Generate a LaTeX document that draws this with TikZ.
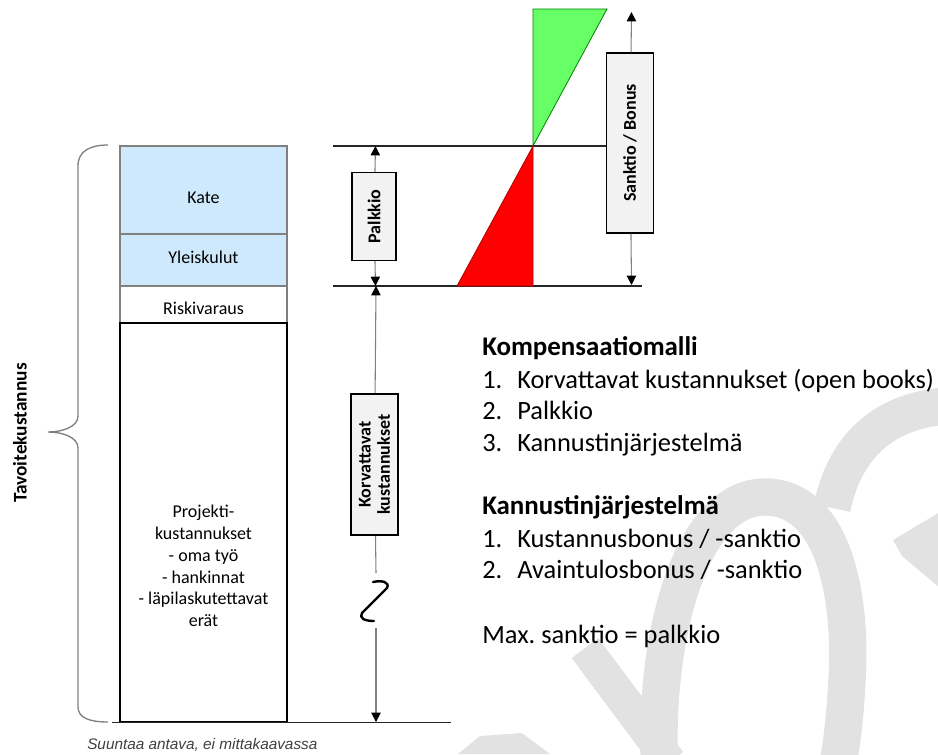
\documentclass[tikz,border=0pt]{standalone}
\usepackage{fontspec}
\setmainfont{Carlito}
\newfontfamily\arialfont{Liberation Sans}
\usetikzlibrary{arrows.meta, calc}

\definecolor{costblue}{RGB}{205,233,251}
\definecolor{bonusgreen}{RGB}{102,255,102}
\definecolor{boxgray}{RGB}{242,242,242}
\definecolor{markgray}{RGB}{226,226,226}
\definecolor{linegray}{RGB}{128,128,128}

\tikzset{
    tip/.tip={Triangle[length=7pt,width=7pt,color=black]},
    dimline/.style={draw=linegray, line width=0.8pt},
    labelbox/.style={draw=black, fill=boxgray, line width=1.1pt, rotate=90, inner sep=0pt,
        font=\bfseries\fontsize{13.5}{14.5}\selectfont, align=center},
    stacktext/.style={anchor=base, font=\fontsize{13.5}{16.3}\selectfont},
    listtext/.style={anchor=base west, inner sep=0pt, font=\fontsize{19.8}{22}\selectfont},
    listhead/.style={listtext, font=\bfseries\fontsize{20.2}{22}\selectfont},
    wmark/.style={draw=markgray, line width=28pt}
}

\begin{document}
\begin{tikzpicture}[x=0.75pt, y=-0.75pt]
        \useasboundingbox (0,0) rectangle (938,754);
        \clip (0,0) rectangle (938,754);

        % watermark in the background
        \draw[wmark, line width=25pt] (585,648) -- (670,762);
        \fill[markgray] (458,754) -- (480,736) -- (522,733) -- (550,754) -- cycle;
        \draw[wmark] (660,775) .. controls (652,640) and (690,497) .. (765,497)
            .. controls (835,497) and (852,600) .. (847,680) .. controls (845,720) and (841,750) .. (836,775);
        \draw[wmark] (832,508) .. controls (845,445) and (885,410) .. (948,406);
        \fill[markgray] (893,540) -- (940,512) -- (940,588) -- (902,556) -- cycle;

        % target cost stack
        \filldraw[fill=costblue, draw=gray, line width=0.8pt] (120,146) rectangle (287,234);
        \filldraw[fill=costblue, draw=gray, line width=0.8pt] (120,234) rectangle (287,286);
        \filldraw[fill=white, draw=gray, line width=0.8pt] (120,286) rectangle (287,323);
        \filldraw[fill=white, draw=black, line width=1.5pt] (120,323) rectangle (287,722);
        \node[stacktext] (kate) at (203.5,203) {Kate};
        \node[stacktext] (yleis) at (203.5,263) {Yleiskulut};
        \node[stacktext] (riski) at (203.5,314) {Riskivaraus};
        \node[stacktext, anchor=center, align=center] (projekti) at (203.5,566)
            {Projekti-\\kustannukset\\- oma työ\\- hankinnat\\- läpilaskutettavat\\erät};

        % brace
        \draw[linegray, line width=1pt] (108,145) .. controls (90,145) and (78,151) .. (78,166)
            -- (78,416) .. controls (78,427) and (62,432) .. (48,432)
            .. controls (62,432) and (78,437) .. (78,448)
            -- (78,707) .. controls (78,718) and (90,722) .. (108,722);
        \node[rotate=90, font=\bfseries\fontsize{14.5}{15.5}\selectfont] (tavoite) at (20,433) {Tavoitekustannus};

        % level lines
        \coordinate (top left) at (333,146);
        \coordinate (top right) at (607,146);
        \coordinate (mid left) at (333,286);
        \coordinate (mid right) at (642,286);
        \coordinate (low left) at (112,722.5);
        \coordinate (low right) at (451,722.5);
        \draw[black!85, line width=0.8pt] (top left) -- (top right);
        \draw[black!85, line width=0.8pt] (mid left) -- (mid right);
        \draw[black!85, line width=1.1pt] (low left) -- (low right);

        % bonus and sanction triangles
        \filldraw[fill=bonusgreen, draw=green!50!black, line width=0.6pt] (533,9) -- (607,9) -- (533,146) -- cycle;
        \filldraw[fill=red, draw=red!70!black, line width=0.6pt] (533,146) -- (533,286) -- (457,286) -- cycle;

        % Palkkio
        \coordinate (pal top) at (375.5,146);
        \coordinate (pal bot) at (375.5,286);
        \node[labelbox, minimum width=66pt, minimum height=33pt] (palbox) at (374,216.5) {Palkkio};
        \draw[dimline, -tip] (palbox) -- (pal top);
        \draw[dimline, -tip] (palbox) -- (pal bot);

        % Korvattavat kustannukset
        \coordinate (kor top) at (376,286);
        \coordinate (kor bot) at (376,722);
        \coordinate (break top) at (376,573);
        \coordinate (break bot) at (376,628);
        \node[labelbox, minimum width=106pt, minimum height=35pt] (korbox) at (374.5,464.5) {Korvattavat\\kustannukset};
        \draw[dimline, -tip] (korbox) -- (kor top);
        \draw[dimline] (korbox) -- (break top);
        \draw[dimline, -tip] (break bot) -- (kor bot);
        \draw[line width=1.8pt, line cap=round, line join=round] (373,582) .. controls (382,580) and (390,582) .. (387,588)
            -- (362,613) .. controls (359,618) and (364,621) .. (374,621);

        % Sanktio / Bonus
        \coordinate (san top) at (631.5,12);
        \coordinate (san bot) at (631.5,285);
        \node[labelbox, minimum width=135pt, minimum height=35pt] (sanbox) at (630,143) {Sanktio / Bonus};
        \draw[dimline, -tip] (sanbox) -- (san top);
        \draw[dimline, -tip] (sanbox) -- (san bot);

        % compensation model text
        \node[listhead] (kompens) at (482,355) {Kompensaatiomalli};
        \node[listtext] (k1) at (482,388) {1.};
        \node[listtext] (k1t) at (517,388) {Korvattavat kustannukset (open books)};
        \node[listtext] (k2) at (482,419.5) {2.};
        \node[listtext] (k2t) at (517,419.5) {Palkkio};
        \node[listtext] (k3) at (482,451) {3.};
        \node[listtext] (k3t) at (517,451) {Kannustinjärjestelmä};
        \node[listhead] (kannus) at (482,514) {Kannustinjärjestelmä};
        \node[listtext] (b1) at (482,547) {1.};
        \node[listtext] (b1t) at (517,547) {Kustannusbonus / -sanktio};
        \node[listtext] (b2) at (482,578.5) {2.};
        \node[listtext] (b2t) at (517,578.5) {Avaintulosbonus / -sanktio};
        \node[listtext] (maxs) at (482,643) {Max.\ sanktio = palkkio};

        % caption
        \node[anchor=base west, inner sep=0pt, text=black!75, font=\arialfont\itshape\fontsize{11.5}{13}\selectfont] (caption) at (87,749) {Suuntaa antava, ei mittakaavassa};
    \end{tikzpicture}
\end{document}
